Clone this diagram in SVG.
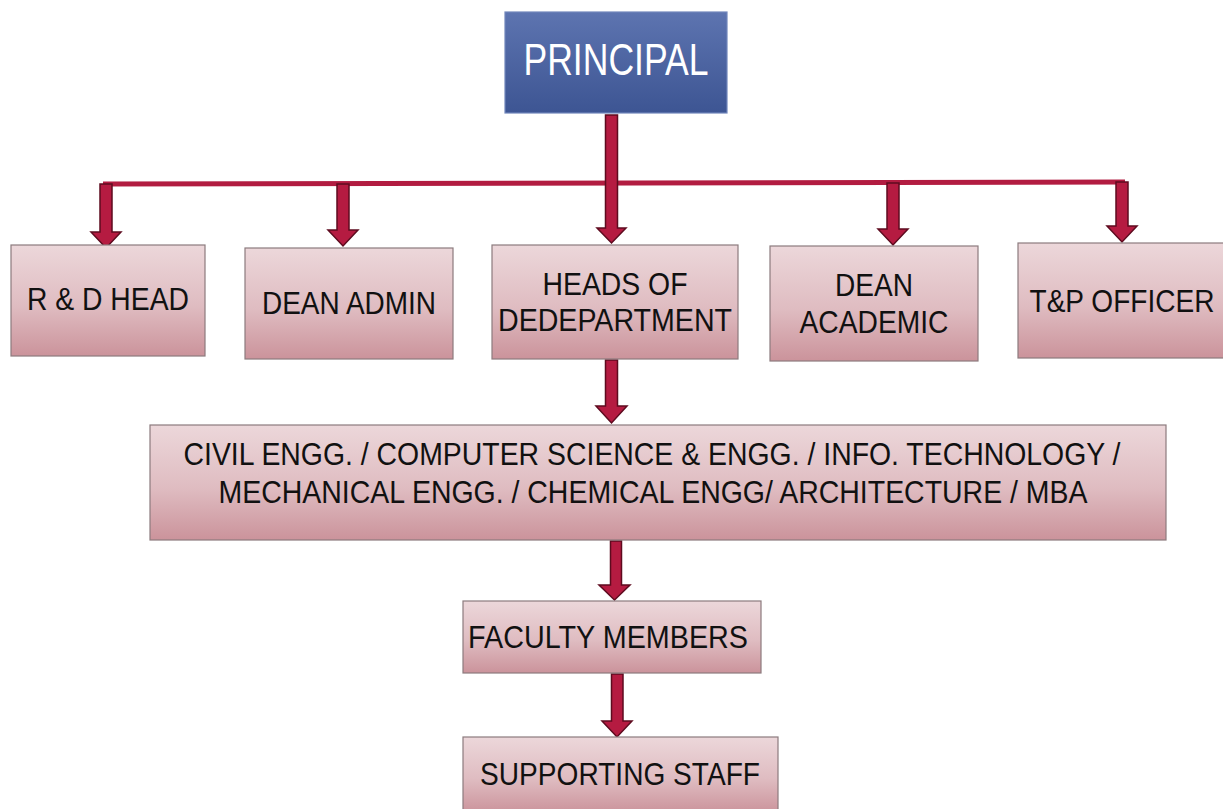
<svg xmlns="http://www.w3.org/2000/svg" width="1223" height="809" viewBox="0 0 1223 809">
<defs>
<linearGradient id="pink" x1="0" y1="0" x2="0" y2="1">
<stop offset="0" stop-color="#ecd7da"/>
<stop offset="0.55" stop-color="#dfbcc1"/>
<stop offset="1" stop-color="#cb939b"/>
</linearGradient>
<linearGradient id="blue" x1="0" y1="0" x2="0" y2="1">
<stop offset="0" stop-color="#5d74b0"/>
<stop offset="1" stop-color="#3d5593"/>
</linearGradient>
<style>
.box{fill:url(#pink);stroke:#8c7b7e;stroke-width:1.2}
.t{font-family:"Liberation Sans",Arial,sans-serif;font-size:32px;fill:#111111;text-anchor:middle}
.arr{fill:#b51b41;stroke:#5e0b1f;stroke-width:1.5;stroke-linejoin:miter}
</style>
</defs>
<rect width="1223" height="809" fill="#ffffff"/>

<g id="connectors">
<line x1="103" y1="184" x2="1125" y2="182" stroke="#b21c41" stroke-width="5"/>
<path class="arr" d="M605.5,115 H617.5 V228 H626 L611.5,243 L597,228 H605.5 Z"/>
<path class="arr" d="M100,184 H112 V232 H121 L106,248 L91,232 H100 Z"/>
<path class="arr" d="M337,184 H349 V230 H358 L343,246 L328,230 H337 Z"/>
<path class="arr" d="M887,183 H899 V229 H908 L893,245 L878,229 H887 Z"/>
<path class="arr" d="M1116,182 H1128 V226 H1137 L1122,242 L1107,226 H1116 Z"/>
<path class="arr" d="M605.5,360 H617.5 V406 H627 L611.5,423 L596,406 H605.5 Z"/>
<path class="arr" d="M610.5,541 H621.5 V585 H630 L614.5,600 L599,585 H610.5 Z"/>
<path class="arr" d="M611.5,674 H623 V721 H632 L617,737 L602,721 H611.5 Z"/>
</g>

<g id="principal">
<rect x="505" y="12" width="222" height="101" fill="url(#blue)" stroke="#7186bb" stroke-width="1.2"/>
<text x="616" y="75" font-family="Liberation Sans, Arial, sans-serif" font-size="45" fill="#ffffff" text-anchor="middle" textLength="185" lengthAdjust="spacingAndGlyphs">PRINCIPAL</text>
</g>

<g id="rd-head">
<rect class="box" x="11" y="245" width="194" height="111"/>
<text class="t" x="108" y="310" textLength="162" lengthAdjust="spacingAndGlyphs">R &amp; D HEAD</text>
</g>

<g id="dean-admin">
<rect class="box" x="245" y="248" width="208" height="111"/>
<text class="t" x="349" y="314" textLength="174" lengthAdjust="spacingAndGlyphs">DEAN ADMIN</text>
</g>

<g id="heads-of-department">
<rect class="box" x="492" y="245" width="246" height="114"/>
<text class="t" x="615" y="295" textLength="145" lengthAdjust="spacingAndGlyphs">HEADS OF</text>
<text class="t" x="615" y="331" textLength="234" lengthAdjust="spacingAndGlyphs">DEDEPARTMENT</text>
</g>

<g id="dean-academic">
<rect class="box" x="770" y="246" width="208" height="115"/>
<text class="t" x="874" y="296" textLength="78" lengthAdjust="spacingAndGlyphs">DEAN</text>
<text class="t" x="874" y="333" textLength="149" lengthAdjust="spacingAndGlyphs">ACADEMIC</text>
</g>

<g id="tp-officer">
<rect class="box" x="1018" y="243" width="210" height="115"/>
<text class="t" x="1122" y="312" textLength="185" lengthAdjust="spacingAndGlyphs">T&amp;P OFFICER</text>
</g>

<g id="departments">
<rect class="box" x="150" y="425" width="1016" height="115"/>
<text class="t" x="652" y="465" textLength="937" lengthAdjust="spacingAndGlyphs">CIVIL ENGG. / COMPUTER SCIENCE &amp; ENGG. / INFO. TECHNOLOGY /</text>
<text class="t" x="653" y="503" textLength="869" lengthAdjust="spacingAndGlyphs">MECHANICAL ENGG. / CHEMICAL ENGG/ ARCHITECTURE / MBA</text>
</g>

<g id="faculty-members">
<rect class="box" x="463" y="601" width="298" height="72"/>
<text class="t" x="608" y="648" textLength="280" lengthAdjust="spacingAndGlyphs">FACULTY MEMBERS</text>
</g>

<g id="supporting-staff">
<rect class="box" x="463" y="737" width="315" height="76"/>
<text class="t" x="620" y="785" textLength="280" lengthAdjust="spacingAndGlyphs">SUPPORTING STAFF</text>
</g>
</svg>
